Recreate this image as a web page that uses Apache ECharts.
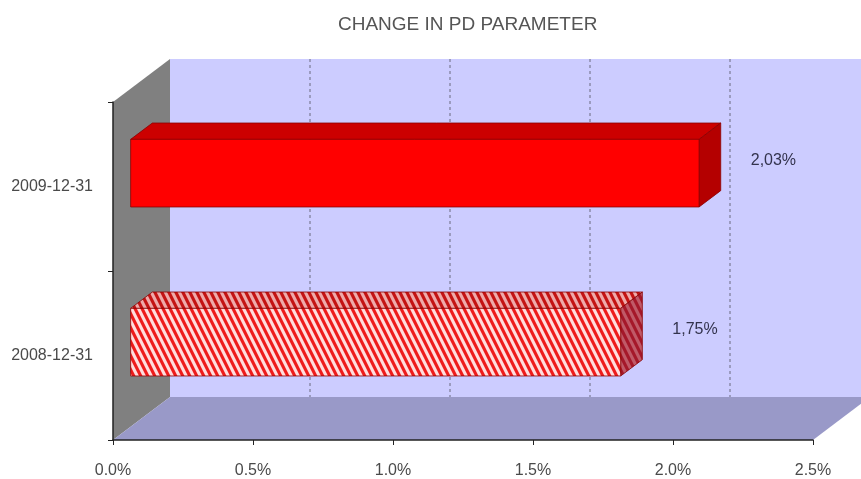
<!DOCTYPE html>
<html>
<head>
<meta charset="utf-8">
<script src="https://cdn.jsdelivr.net/npm/echarts@6/dist/echarts.min.js"></script>
<style>
  html, body { margin: 0; padding: 0; background: #ffffff; }
  #chart { width: 861px; height: 479px; }
</style>
</head>
<body>
<div id="chart"></div>
<script>
// Category labels (bottom to top) and the change in PD, in percent
const categories = ['2008-12-31', '2009-12-31'];
const changeValues = [1.75, 2.03];
// Value axis ticks, in percent
const xTickValues = [0, 0.5, 1.0, 1.5, 2.0, 2.5];

// Oblique depth vector of the pseudo-3D box (px) and bar slab position inside it
const DEPTH = [57, -43];
const BAR_FRONT = 0.31;
const BAR_BACK = 0.69;
const FONT = '"Liberation Sans", Arial, sans-serif';

// Steep "\" stripe tile used as a pattern fill
function makeHatch(dark, light) {
  const w = 7, h = 14, band = 3.5;
  const c = document.createElement('canvas');
  c.width = w; c.height = h;
  const ctx = c.getContext('2d');
  ctx.fillStyle = light;
  ctx.fillRect(0, 0, w, h);
  ctx.fillStyle = dark;
  for (let k = -2; k <= 2; k++) {
    const x = k * w;
    ctx.beginPath();
    ctx.moveTo(x, 0);
    ctx.lineTo(x + band, 0);
    ctx.lineTo(x + band + w, h);
    ctx.lineTo(x + w, h);
    ctx.closePath();
    ctx.fill();
  }
  return { image: c, repeat: 'repeat' };
}

const barStyles = [
  {
    front: makeHatch('#ee1c1c', '#ffdede'),
    top: makeHatch('#c41414', '#eeaaaa'),
    side: makeHatch('#a5182a', '#c05a68'),
    stroke: '#8a0000'
  },
  {
    front: '#ff0000',
    top: '#cc0000',
    side: '#b40000',
    stroke: '#8a0000'
  }
];

function fmtLabel(v) {
  return v.toFixed(2).replace('.', ',') + '%';
}

const chart = echarts.init(document.getElementById('chart'), null, { renderer: 'canvas' });

// Walls, floor and back-wall gridlines of the box
function renderWalls(params, api) {
  const cs = params.coordSys;
  const x0 = cs.x, y0 = cs.y, x1 = cs.x + cs.width, y1 = cs.y + cs.height;
  const dx = DEPTH[0], dy = DEPTH[1];
  const children = [];
  children.push({
    type: 'polygon',
    shape: { points: [[x0 + dx, y0 + dy], [x1 + dx + 20, y0 + dy], [x1 + dx + 20, y1 + dy], [x0 + dx, y1 + dy]] },
    style: { fill: '#ccccff' }
  });
  children.push({
    type: 'polygon',
    shape: { points: [[x0, y0], [x0 + dx, y0 + dy], [x0 + dx, y1 + dy], [x0, y1]] },
    style: { fill: '#808080' }
  });
  children.push({
    type: 'polygon',
    shape: { points: [[x0, y1], [x0 + dx, y1 + dy], [x1 + dx, y1 + dy], [x1, y1]] },
    style: { fill: '#9999c8' }
  });
  xTickValues.forEach(function (v) {
    if (v === xTickValues[0]) return;
    const px = api.coord([v, 0])[0] + dx;
    children.push({
      type: 'line',
      shape: { x1: px, y1: y0 + dy, x2: px, y2: y1 + dy },
      style: { stroke: '#6a6a80', lineWidth: 1, lineDash: [3, 3] }
    });
  });
  return { type: 'group', children: children };
}

// One oblique slab per category: top face, right face, front face, value label
function renderBar(params, api) {
  const value = api.value(0);
  const cat = api.value(1);
  const base = api.coord([0, cat]);
  const end = api.coord([value, cat]);
  const barH = api.size([0, 1])[1] * 0.4;
  const fx = DEPTH[0] * BAR_FRONT, fy = DEPTH[1] * BAR_FRONT;
  const bx = DEPTH[0] * BAR_BACK, by = DEPTH[1] * BAR_BACK;
  const L = base[0], R = end[0];
  const T = base[1] - barH / 2, B = base[1] + barH / 2;
  const st = barStyles[params.dataIndex];

  const FTL = [L + fx, T + fy], FTR = [R + fx, T + fy];
  const FBL = [L + fx, B + fy], FBR = [R + fx, B + fy];
  const BTL = [L + bx, T + by], BTR = [R + bx, T + by];
  const BBR = [R + bx, B + by];

  const ly = DEPTH[1] * 0.6;
  return {
    type: 'group',
    children: [
      {
        type: 'polygon',
        shape: { points: [FTL, FTR, BTR, BTL] },
        style: { fill: st.top, stroke: st.stroke, lineWidth: 0.8 }
      },
      {
        type: 'polygon',
        shape: { points: [FTR, BTR, BBR, FBR] },
        style: { fill: st.side, stroke: st.stroke, lineWidth: 0.8 }
      },
      {
        type: 'polygon',
        shape: { points: [FTL, FTR, FBR, FBL] },
        style: { fill: st.front, stroke: st.stroke, lineWidth: 0.8 }
      },
      {
        type: 'text',
        x: R + bx + 30,
        y: base[1] + ly,
        style: {
          text: fmtLabel(value),
          fill: '#33334d',
          font: '16px ' + FONT,
          align: 'left',
          verticalAlign: 'middle'
        }
      }
    ]
  };
}

const option = {
  backgroundColor: '#ffffff',
  animation: false,
  title: {
    text: 'CHANGE IN PD PARAMETER',
    left: 333,
    top: 10,
    textStyle: { fontFamily: FONT, fontSize: 19, fontWeight: 'normal', color: '#555555' }
  },
  grid: { left: 113, right: 48, top: 102, bottom: 39, containLabel: false },
  xAxis: {
    type: 'value',
    min: xTickValues[0],
    max: xTickValues[xTickValues.length - 1],
    interval: xTickValues[1] - xTickValues[0],
    z: 5,
    axisLine: { show: true, lineStyle: { color: '#222222', width: 1.5 } },
    axisTick: { show: true, length: 5, lineStyle: { color: '#222222' } },
    splitLine: { show: false },
    axisLabel: {
      margin: 23,
      fontFamily: FONT,
      fontSize: 16,
      color: '#4a4a4a',
      formatter: function (v) { return v.toFixed(1) + '%'; }
    }
  },
  yAxis: {
    type: 'category',
    data: categories,
    z: 5,
    axisLine: { show: true, lineStyle: { color: '#222222', width: 1.5 } },
    axisTick: { show: true, length: 5, alignWithLabel: false, lineStyle: { color: '#222222' } },
    splitLine: { show: false },
    axisLabel: { margin: 20, fontFamily: FONT, fontSize: 16, color: '#4a4a4a' }
  },
  series: [
    {
      type: 'custom',
      z: 1,
      silent: true,
      renderItem: renderWalls,
      data: [[0, 0]]
    },
    {
      type: 'custom',
      z: 2,
      renderItem: renderBar,
      encode: { x: 0, y: 1 },
      data: changeValues.map(function (v, i) { return [v, i]; })
    }
  ]
};

chart.setOption(option);
</script>
</body>
</html>
